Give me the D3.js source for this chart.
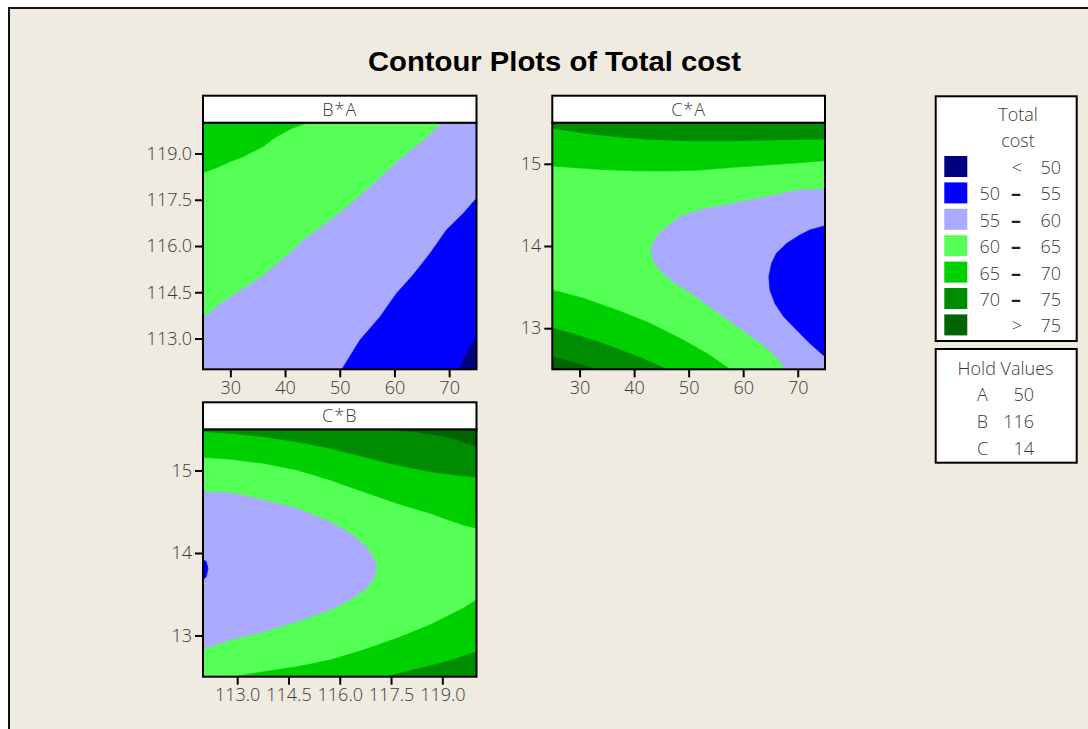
<!DOCTYPE html>
<html>
<head>
<meta charset="utf-8">
<script src="https://cdn.jsdelivr.net/npm/d3@7"></script>
<style>
  html, body { margin: 0; padding: 0; background: #ffffff; }
  svg { display: block; }
  .lbl { font-family: "Open Sans", "Liberation Sans", sans-serif; font-weight: 300; fill: #3a3a3a; }
</style>
</head>
<body>
<svg id="chart" width="1088" height="729"></svg>
<script>
// ---- Factor ranges and ticks ----
const aRange = [25, 75];
const bRange = [112, 120];
const cRange = [12.5, 15.5];
const aTicks = [30, 40, 50, 60, 70];
const bTicks = [113.0, 114.5, 116.0, 117.5, 119.0];
const cTicks = [13, 14, 15];

const panelTitles = ["B*A", "C*A", "C*B"];

// ---- Total cost bands (legend) ----
const bandLows   = [null, 50, 55, 60, 65, 70, 75];
const bandHighs  = [50, 55, 60, 65, 70, 75, null];
const bandColors = ["#000080", "#0000ff", "#aaaaff", "#55ff55", "#00d000", "#008c00", "#006400"];

// ---- Hold values ----
const holdFactors = ["A", "B", "C"];
const holdValues  = [50, 116, 14];

// ---- Contour lines, B*A panel: [A, B] ----
const ba65 = [[44.0,120],[40.9,119.79],[37.9,119.49],[36.1,119.24],[32.4,118.90],[30.0,118.74],[27.6,118.55],[25,118.38]];
const ba60 = [[68.6,120],[65.3,119.44],[60.4,118.74],[55.5,117.92],[51.3,117.28],[48.2,116.84],[44.0,116.30],[40.3,115.71],[36.1,115.06],[31.8,114.57],[28.2,114.14],[25,113.68]];
const ba55 = [[50.4,112],[53.7,112.95],[57.4,113.71],[60.4,114.47],[63.4,115.06],[66.5,115.76],[69.5,116.52],[72.6,117.06],[75,117.55]];
const ba50 = [[71.8,112],[72.6,112.30],[73.8,112.73],[75,113.06]];

// ---- Contour lines, C*A panel: [A, C] ----
const ca70Top = [[25,15.431],[31.3,15.370],[36.8,15.330],[42.9,15.297],[49.6,15.281],[58.2,15.281],[67.4,15.293],[75,15.301]];
const ca65Top = [[25,14.973],[33.7,14.932],[39.9,14.916],[46.0,14.912],[52.1,14.924],[58.2,14.957],[64.3,14.985],[70.4,15.014],[75,15.038]];
const ca60 = [[75,14.693],[70.4,14.681],[64.3,14.600],[58.2,14.519],[52.1,14.438],[48.4,14.357],[46.0,14.235],[44.1,14.114],[43.2,13.992],[43.1,13.911],[43.6,13.810],[45.0,13.688],[47.2,13.566],[50.9,13.404],[55.1,13.201],[59.4,12.999],[63.7,12.796],[66.1,12.654],[67.8,12.5]];
const ca55 = [[75,14.247],[72.2,14.195],[70.4,14.134],[68.0,14.032],[66.1,13.911],[65.2,13.789],[64.7,13.627],[64.9,13.465],[65.8,13.303],[67.4,13.141],[69.8,12.978],[72.2,12.816],[75,12.654]];
const ca65Bot = [[25,13.465],[30.7,13.364],[36.8,13.222],[42.9,13.060],[49.0,12.857],[53.3,12.695],[57.6,12.5]];
const ca70Bot = [[25,13.0],[29.5,12.918],[35.0,12.796],[39.9,12.674],[42.9,12.593],[46.0,12.5]];
const ca75Bot = [[25,12.654],[28.9,12.581],[33.1,12.5]];

// ---- Contour lines, C*B panel: [B, C] ----
const cb75Top = [[117.372,15.5],[118.151,15.472],[118.832,15.431],[119.416,15.379],[120,15.290]];
const cb70Top = [[112,15.472],[112.798,15.451],[113.771,15.411],[114.744,15.350],[115.718,15.270],[116.691,15.168],[117.664,15.067],[118.637,14.987],[119.610,14.934],[120,14.918]];
const cb65Top = [[112,15.160],[112.798,15.136],[113.771,15.088],[114.744,15.007],[115.718,14.885],[116.691,14.744],[117.664,14.602],[118.637,14.481],[119.610,14.340],[120,14.299]];
const cb60 = [[112,14.744],[112.798,14.732],[113.771,14.643],[114.744,14.542],[115.718,14.380],[116.302,14.239],[116.788,14.077],[117.031,13.915],[117.080,13.814],[117.031,13.713],[116.788,13.572],[116.302,13.430],[115.718,13.309],[114.744,13.167],[113.771,13.046],[112.798,12.945],[112,12.832]];
const cb55 = [[112,13.923],[112.097,13.895],[112.146,13.814],[112.097,13.713],[112,13.673]];
const cb65Bot = [[112.895,12.5],[113.771,12.561],[114.744,12.621],[115.718,12.702],[116.691,12.824],[117.664,12.965],[118.637,13.127],[119.610,13.329],[120,13.430]];
const cb70Bot = [[117.372,12.5],[118.151,12.581],[119.124,12.682],[120,12.803]];

// ---- Panel setup: filled regions are closed along the plot edges ----
const fmt1 = d3.format(".1f");
const fmt0 = d3.format("d");

const panels = [
  {
    title: panelTitles[0], xr: aRange, yr: bRange, xt: aTicks, yt: bTicks, xf: fmt0, yf: fmt1,
    box: { x0: 203, y0: 122.7, x1: 476.5, y1: 369.3 },
    base: 2,
    regions: [
      { band: 3, pts: [...ba60, [aRange[0], bRange[1]]] },
      { band: 4, pts: [...ba65, [aRange[0], bRange[1]]] },
      { band: 1, pts: [...ba55, [aRange[1], bRange[0]]] },
      { band: 0, pts: [...ba50, [aRange[1], bRange[0]]] }
    ]
  },
  {
    title: panelTitles[1], xr: aRange, yr: cRange, xt: aTicks, yt: cTicks, xf: fmt0, yf: fmt0,
    box: { x0: 552.3, y0: 122.7, x1: 825, y1: 369.3 },
    base: 3,
    regions: [
      { band: 4, pts: [...ca65Top, [aRange[1], cRange[1]], [aRange[0], cRange[1]]] },
      { band: 5, pts: [...ca70Top, [aRange[1], cRange[1]], [aRange[0], cRange[1]]] },
      { band: 4, pts: [...ca65Bot, [aRange[0], cRange[0]]] },
      { band: 5, pts: [...ca70Bot, [aRange[0], cRange[0]]] },
      { band: 6, pts: [...ca75Bot, [aRange[0], cRange[0]]] },
      { band: 2, pts: [...ca60, [aRange[1], cRange[0]]] },
      { band: 1, pts: ca55 }
    ]
  },
  {
    title: panelTitles[2], xr: bRange, yr: cRange, xt: bTicks, yt: cTicks, xf: fmt1, yf: fmt0,
    box: { x0: 203, y0: 429.3, x1: 476.5, y1: 676.7 },
    base: 3,
    regions: [
      { band: 4, pts: [...cb65Top, [bRange[1], cRange[1]], [bRange[0], cRange[1]]] },
      { band: 5, pts: [...cb70Top, [bRange[1], cRange[1]], [bRange[0], cRange[1]]] },
      { band: 6, pts: [...cb75Top, [bRange[1], cRange[1]]] },
      { band: 4, pts: [...cb65Bot, [bRange[1], cRange[0]]] },
      { band: 5, pts: [...cb70Bot, [bRange[1], cRange[0]]] },
      { band: 2, pts: cb60 },
      { band: 1, pts: cb55 }
    ]
  }
];

const svg = d3.select("#chart");

// Page frame
svg.append("rect")
  .attr("x", 9).attr("y", 8).attr("width", 1100).attr("height", 740)
  .attr("fill", "#efebe1").attr("stroke", "#111").attr("stroke-width", 2);

// Title
svg.append("text")
  .attr("x", 554.5).attr("y", 71)
  .attr("text-anchor", "middle")
  .attr("textLength", 373).attr("lengthAdjust", "spacingAndGlyphs")
  .style("font-family", "'Liberation Sans', Arial, sans-serif")
  .style("font-weight", "bold").style("font-size", "28px").style("fill", "#000")
  .text("Contour Plots of Total cost");

const stripH = 27;

panels.forEach((p, i) => {
  const b = p.box;
  const x = d3.scaleLinear().domain(p.xr).range([b.x0, b.x1]);
  const y = d3.scaleLinear().domain(p.yr).range([b.y1, b.y0]);
  const g = svg.append("g");

  const clipId = "clip" + i;
  svg.append("clipPath").attr("id", clipId)
    .append("rect").attr("x", b.x0).attr("y", b.y0)
    .attr("width", b.x1 - b.x0).attr("height", b.y1 - b.y0);

  const plot = g.append("g").attr("clip-path", `url(#${clipId})`);
  plot.append("rect")
    .attr("x", x(p.xr[0])).attr("y", y(p.yr[1]))
    .attr("width", x(p.xr[1]) - x(p.xr[0])).attr("height", y(p.yr[0]) - y(p.yr[1]))
    .attr("fill", bandColors[p.base]);

  const line = d3.line().x(d => x(d[0])).y(d => y(d[1]));
  plot.selectAll("path.band")
    .data(p.regions)
    .join("path")
    .attr("class", "band")
    .attr("d", d => line(d.pts) + "Z")
    .attr("fill", d => bandColors[d.band])
    .attr("stroke", d => bandColors[d.band])
    .attr("stroke-width", 0.6);

  // Axes
  const ax = g.append("g").attr("transform", `translate(0,${b.y1})`)
    .call(d3.axisBottom(x).tickValues(p.xt).tickFormat(p.xf).tickSize(8).tickPadding(4));
  const ay = g.append("g").attr("transform", `translate(${b.x0},0)`)
    .call(d3.axisLeft(y).tickValues(p.yt).tickFormat(p.yf).tickSize(8).tickPadding(3));
  [ax, ay].forEach(a => {
    a.select(".domain").remove();
    a.selectAll(".tick line").attr("stroke", "#000").attr("stroke-width", 2);
    a.selectAll(".tick text").attr("class", "lbl").style("font-size", "18px").attr("fill", null);
  });

  // Plot border
  g.append("rect")
    .attr("x", b.x0).attr("y", b.y0).attr("width", b.x1 - b.x0).attr("height", b.y1 - b.y0)
    .attr("fill", "none").attr("stroke", "#000").attr("stroke-width", 2);

  // Panel strip
  g.append("rect")
    .attr("x", b.x0).attr("y", b.y0 - stripH).attr("width", b.x1 - b.x0).attr("height", stripH)
    .attr("fill", "#fff").attr("stroke", "#000").attr("stroke-width", 2);
  g.append("text").attr("class", "lbl")
    .attr("x", (b.x0 + b.x1) / 2).attr("y", b.y0 - 7)
    .attr("text-anchor", "middle").style("font-size", "18px").style("letter-spacing", "1px")
    .text(p.title);
});

// ---- Legend ----
const leg = svg.append("g");
leg.append("rect").attr("x", 935.7).attr("y", 96.3).attr("width", 141).attr("height", 244.7)
  .attr("fill", "#fff").attr("stroke", "#000").attr("stroke-width", 2);
leg.append("text").attr("class", "lbl").attr("x", 1018).attr("y", 121)
  .attr("text-anchor", "middle").style("font-size", "18px").text("Total");
leg.append("text").attr("class", "lbl").attr("x", 1018).attr("y", 147)
  .attr("text-anchor", "middle").style("font-size", "18px").text("cost");

const rowY = d3.scaleLinear().domain([0, 1]).range([156, 182.4]);
bandColors.forEach((c, i) => {
  const top = rowY(i);
  leg.append("rect").attr("x", 944.3).attr("y", top).attr("width", 23).attr("height", 21)
    .attr("fill", c);
  const base = top + 18;
  const lo = bandLows[i], hi = bandHighs[i];
  if (lo === null) {
    leg.append("text").attr("class", "lbl").attr("x", 1017).attr("y", base)
      .attr("text-anchor", "middle").style("font-size", "18px").text("<");
    leg.append("text").attr("class", "lbl").attr("x", 1061).attr("y", base)
      .attr("text-anchor", "end").style("font-size", "18px").text(hi);
  } else if (hi === null) {
    leg.append("text").attr("class", "lbl").attr("x", 1017).attr("y", base)
      .attr("text-anchor", "middle").style("font-size", "18px").text(">");
    leg.append("text").attr("class", "lbl").attr("x", 1061).attr("y", base)
      .attr("text-anchor", "end").style("font-size", "18px").text(lo);
  } else {
    leg.append("text").attr("class", "lbl").attr("x", 1000).attr("y", base)
      .attr("text-anchor", "end").style("font-size", "18px").text(lo);
    leg.append("text").attr("class", "lbl").attr("x", 1016).attr("y", base)
      .attr("text-anchor", "middle").style("font-size", "20px").style("font-weight", 700).style("fill", "#222").text("–");
    leg.append("text").attr("class", "lbl").attr("x", 1061).attr("y", base)
      .attr("text-anchor", "end").style("font-size", "18px").text(hi);
  }
});

// ---- Hold values box ----
const hold = svg.append("g");
hold.append("rect").attr("x", 935.7).attr("y", 349).attr("width", 141).attr("height", 113.7)
  .attr("fill", "#fff").attr("stroke", "#000").attr("stroke-width", 2);
hold.append("text").attr("class", "lbl").attr("x", 1005.5).attr("y", 375)
  .attr("text-anchor", "middle").style("font-size", "18px").text("Hold Values");
holdFactors.forEach((f, i) => {
  const base = 401 + 27 * i;
  hold.append("text").attr("class", "lbl").attr("x", 982.5).attr("y", base)
    .attr("text-anchor", "middle").style("font-size", "18px").text(f);
  hold.append("text").attr("class", "lbl").attr("x", 1034).attr("y", base)
    .attr("text-anchor", "end").style("font-size", "18px").text(holdValues[i]);
});
</script>
</body>
</html>
